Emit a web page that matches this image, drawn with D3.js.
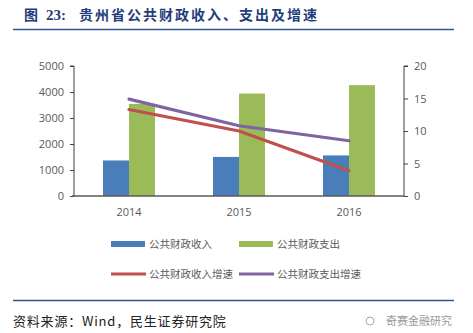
<!DOCTYPE html>
<html><head><meta charset="utf-8">
<script src="https://cdn.jsdelivr.net/npm/d3@7"></script>
<style>body{margin:0;background:#fff}svg{display:block}</style>
</head><body>
<script>
const categories = ["2014", "2015", "2016"];
const revenue = [1367, 1503, 1561];
const expenditure = [3543, 3940, 4262];
const revenueGrowth = [13.3, 10.0, 3.9];
const expenditureGrowth = [14.9, 10.8, 8.5];
const leftTicks = [0, 1000, 2000, 3000, 4000, 5000];
const rightTicks = [0, 5, 10, 15, 20];
const seriesNames = ["公共财政收入", "公共财政支出", "公共财政收入增速", "公共财政支出增速"];
const colors = ["#4a7ebb", "#9bbb59", "#c0504d", "#8064a2"];

(function () {
const W = 473, H = 333;
const svg = d3.select("body").append("svg").attr("width", W).attr("height", H);
const cjk = "'Noto Sans CJK SC', 'Noto Sans', sans-serif";

// title
const tcol = "#1f3d7a";
svg.append("text").attr("x", 24).attr("y", 20).attr("font-family", cjk).attr("font-weight", "bold")
  .attr("font-size", 14).attr("fill", tcol).text("图");
svg.append("text").attr("x", 46).attr("y", 20).attr("font-family", "'Liberation Serif', serif").attr("font-weight", "bold")
  .attr("font-size", 15).attr("fill", tcol).text("23:");
svg.append("text").attr("x", 79).attr("y", 20).attr("font-family", cjk).attr("font-weight", "bold")
  .attr("font-size", 14).attr("letter-spacing", 2).attr("fill", tcol).text("贵州省公共财政收入、支出及增速");
svg.append("line").attr("x1", 13).attr("x2", 454).attr("y1", 29.5).attr("y2", 29.5)
  .attr("stroke", "#2f5597").attr("stroke-width", 1.5);

const pl = 74, pr = 404, pt = 66, pb = 196;
const x = d3.scaleBand().domain(categories).range([pl, pr]).paddingInner(0.527).paddingOuter(0.2635);
const yL = d3.scaleLinear().domain([0, 5000]).range([pb, pt]);
const yR = d3.scaleLinear().domain([0, 20]).range([pb, pt]);
const xSub = d3.scaleBand().domain([0, 1]).range([0, x.bandwidth()]);

const g = svg.append("g");
[revenue, expenditure].forEach((arr, si) => {
  g.selectAll(null).data(arr).enter().append("rect")
    .attr("x", (d, i) => x(categories[i]) + xSub(si))
    .attr("width", xSub.bandwidth())
    .attr("y", d => yL(d))
    .attr("height", d => yL(0) - yL(d))
    .attr("fill", colors[si]);
});

const axL = svg.append("g").attr("transform", `translate(${pl},0)`)
  .call(d3.axisLeft(yL).tickValues(leftTicks).tickFormat(d3.format("d")).tickSize(4).tickPadding(6));
const axR = svg.append("g").attr("transform", `translate(${pr},0)`)
  .call(d3.axisRight(yR).tickValues(rightTicks).tickFormat(d3.format("d")).tickSize(4).tickPadding(6));
const axB = svg.append("g").attr("transform", `translate(0,${pb})`)
  .call(d3.axisBottom(x).tickSize(0).tickPadding(12));
[axL, axR, axB].forEach(a => {
  a.selectAll("text").attr("font-family", "'Open Sans', 'DejaVu Sans', sans-serif").attr("font-size", 11).attr("fill", "#595959");
  a.selectAll("path,line").attr("stroke", "#404040");
});
axL.select(".domain").attr("d", `M-4,${pt}H0V${pb}`);
axR.select(".domain").attr("d", `M4,${pt}H0V${pb}`);
axB.select(".domain").attr("d", `M${pl - 2},0H${pr}`).attr("stroke", "#595959").attr("stroke-width", 1.5);

const line = d3.line().x((d, i) => x(categories[i]) + x.bandwidth() / 2).y(d => yR(d));
[revenueGrowth, expenditureGrowth].forEach((arr, si) => {
  svg.append("path").datum(arr).attr("d", line).attr("fill", "none")
    .attr("stroke", colors[si + 2]).attr("stroke-width", 3.2).attr("stroke-linecap", "round");
});

const legPos = [[111, 244], [239, 244], [111, 274], [239, 274]];
seriesNames.forEach((n, i) => {
  const [lx, ly] = legPos[i];
  if (i < 2) {
    svg.append("rect").attr("x", lx).attr("y", ly - 3).attr("width", 34).attr("height", 6).attr("fill", colors[i]);
  } else {
    svg.append("line").attr("x1", lx).attr("x2", lx + 35).attr("y1", ly).attr("y2", ly)
      .attr("stroke", colors[i]).attr("stroke-width", 3);
  }
  svg.append("text").attr("x", lx + 38).attr("y", ly + 4).attr("font-family", cjk)
    .attr("font-size", 10.5).attr("fill", "#595959").text(n);
});

svg.append("line").attr("x1", 13).attr("x2", 454).attr("y1", 300.5).attr("y2", 300.5)
  .attr("stroke", "#2f5597").attr("stroke-width", 1.5);
svg.append("text").attr("x", 13).attr("y", 326).attr("font-family", cjk)
  .attr("font-size", 13).attr("letter-spacing", 0.8).attr("fill", "#222").text("资料来源：Wind，民生证券研究院");
svg.append("circle").attr("cx", 370).attr("cy", 321).attr("r", 4).attr("fill", "none").attr("stroke", "#aaa");
svg.append("text").attr("x", 386).attr("y", 325).attr("font-family", cjk)
  .attr("font-size", 11).attr("fill", "#999").text("奇赛金融研究");
})();
</script>
</body></html>
